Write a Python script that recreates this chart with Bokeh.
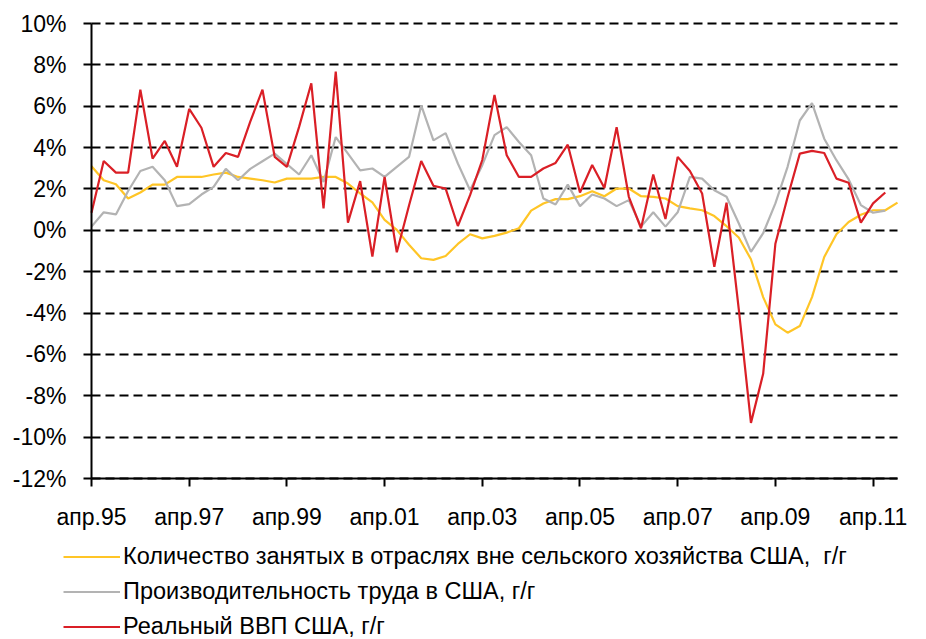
from bokeh.plotting import figure
from bokeh.models import FixedTicker, PrintfTickFormatter, Legend, LegendItem, Range1d
from bokeh.embed import file_html
from bokeh.resources import INLINE

# Quarterly index 0 = апр.95
tick_positions = [0, 8, 16, 24, 32, 40, 48, 56, 64]
tick_labels = ["апр.95", "апр.97", "апр.99", "апр.01", "апр.03",
               "апр.05", "апр.07", "апр.09", "апр.11"]
y_ticks = [-12, -10, -8, -6, -4, -2, 0, 2, 4, 6, 8, 10]

employment = [3.1, 2.42, 2.23, 1.54, 1.83, 2.21, 2.21, 2.58, 2.58, 2.58,
              2.7, 2.79, 2.58, 2.5, 2.42, 2.31, 2.5, 2.5, 2.5, 2.58,
              2.58, 2.26, 1.78, 1.35, 0.5, 0.02, -0.7, -1.35, -1.43, -1.24,
              -0.66, -0.19, -0.39, -0.27, -0.11, 0.1, 0.95, 1.3, 1.51, 1.51,
              1.65, 1.89, 1.65, 2.02, 2.02, 1.65, 1.62, 1.54, 1.17, 1.06,
              0.97, 0.69, 0.2, -0.35, -1.4, -3.23, -4.55, -4.95, -4.63, -3.23,
              -1.29, -0.19, 0.4, 0.75, 0.97, 0.97, 1.34]

productivity = [0.18, 0.87, 0.77, 1.9, 2.87, 3.07, 2.42, 1.17, 1.27, 1.73,
                2.1, 2.97, 2.42, 2.97, 3.34, 3.71, 3.2, 2.7, 3.63, 2.34,
                4.51, 3.71, 2.9, 2.99, 2.58, 3.07, 3.55, 6.04, 4.35, 4.7,
                3.23, 1.94, 3.15, 4.6, 4.99, 4.27, 3.63, 1.54, 1.25, 2.21,
                1.17, 1.73, 1.54, 1.17, 1.46, 0.18, 0.87, 0.18, 0.87, 2.58,
                2.5, 1.94, 1.62, 0.34, -1.04, -0.14, 1.3, 3.07, 5.31, 6.15,
                4.43, 3.39, 2.46, 1.22, 0.85, 0.95]

gdp = [0.85, 3.35, 2.79, 2.79, 6.8, 3.47, 4.32, 3.07, 5.87, 4.96,
       3.07, 3.74, 3.55, 5.26, 6.8, 3.55, 3.07, 5.0, 7.11, 1.06,
       7.67, 0.37, 2.38, -1.27, 2.58, -1.06, 1.2, 3.35, 2.15, 2.02,
       0.21, 1.7, 3.4, 6.55, 3.63, 2.58, 2.58, 2.99, 3.26, 4.14,
       1.83, 3.16, 2.05, 4.99, 1.62, 0.1, 2.7, 0.55, 3.55, 2.87,
       1.78, -1.76, 1.34, -3.8, -9.31, -6.94, -0.65, 1.6, 3.71, 3.84,
       3.74, 2.5, 2.3, 0.37, 1.3, 1.83]

series_names = ["Количество занятых в отраслях вне сельского хозяйства США,  г/г",
                "Производительность труда в США, г/г",
                "Реальный ВВП США, г/г"]
series_colors = ["#FFC526", "#B3B3B3", "#DA1F26"]

FONT = "Liberation Sans"

# ---- layout (pixels) ----
W, H = 926, 639
PLOT_L, PLOT_R = 91, 897      # x pixels of first / last quarter
PLOT_T, PLOT_B = 23, 478      # y pixels of 10% / -12%
X0, X1 = 0, 66                # quarter index span of the axis
Y0, Y1 = y_ticks[0], y_ticks[-1]
sx = (PLOT_R - PLOT_L) / (X1 - X0)
sy = (PLOT_B - PLOT_T) / (Y1 - Y0)
x_range = Range1d(X0 - PLOT_L / sx, X1 + (W - PLOT_R) / sx)
y_range = Range1d(Y0 - (H - PLOT_B) / sy, Y1 + PLOT_T / sy)

p = figure(width=W, height=H, output_backend="svg", toolbar_location=None,
           x_range=x_range, y_range=y_range,
           min_border_left=0, min_border_right=0,
           min_border_top=0, min_border_bottom=0)
p.outline_line_color = None
p.background_fill_color = "white"

p.xgrid.grid_line_color = None
p.ygrid.grid_line_color = "black"
p.ygrid.grid_line_width = 2
p.ygrid.grid_line_dash = "9 5"
p.ygrid.ticker = FixedTicker(ticks=y_ticks)
p.ygrid.bounds = (Y0, Y1)
p.ygrid.cross_bounds = (X0, X1)

p.yaxis.ticker = FixedTicker(ticks=y_ticks)
p.yaxis.formatter = PrintfTickFormatter(format="%d%%")
p.yaxis.bounds = (Y0, Y1)
p.yaxis.fixed_location = X0
p.xaxis.ticker = FixedTicker(ticks=tick_positions)
p.xaxis.major_label_overrides = {t: l for t, l in zip(tick_positions, tick_labels)}
p.xaxis.bounds = (X0, X1)
p.xaxis.fixed_location = Y0

for ax in (p.xaxis[0], p.yaxis[0]):
    ax.axis_line_color = "black"
    ax.axis_line_width = 2
    ax.major_tick_line_color = "black"
    ax.major_tick_line_width = 2
    ax.major_tick_out = 8
    ax.major_tick_in = 0
    ax.minor_tick_line_color = None
    ax.major_label_text_font = FONT
    ax.major_label_text_font_size = "23px"
    ax.major_label_text_color = "black"
p.xaxis.major_label_standoff = 17
p.yaxis.major_label_standoff = 17

r1 = p.line(list(range(len(employment))), employment, line_color=series_colors[0], line_width=2.2)
r2 = p.line(list(range(len(productivity))), productivity, line_color=series_colors[1], line_width=2.2)
r3 = p.line(list(range(len(gdp))), gdp, line_color=series_colors[2], line_width=2.2)

legend = Legend(items=[LegendItem(label=series_names[0], renderers=[r1]),
                       LegendItem(label=series_names[1], renderers=[r2]),
                       LegendItem(label=series_names[2], renderers=[r3])],
                location=(63, -1), orientation="vertical",
                padding=0, margin=0, spacing=8,
                glyph_width=57, glyph_height=27, label_height=27,
                label_standoff=3,
                label_text_font=FONT, label_text_font_size="23.5px",
                label_text_color="black",
                border_line_color=None, background_fill_alpha=0)
p.add_layout(legend, "center")

open("out.html", "w").write(file_html(p, INLINE))
